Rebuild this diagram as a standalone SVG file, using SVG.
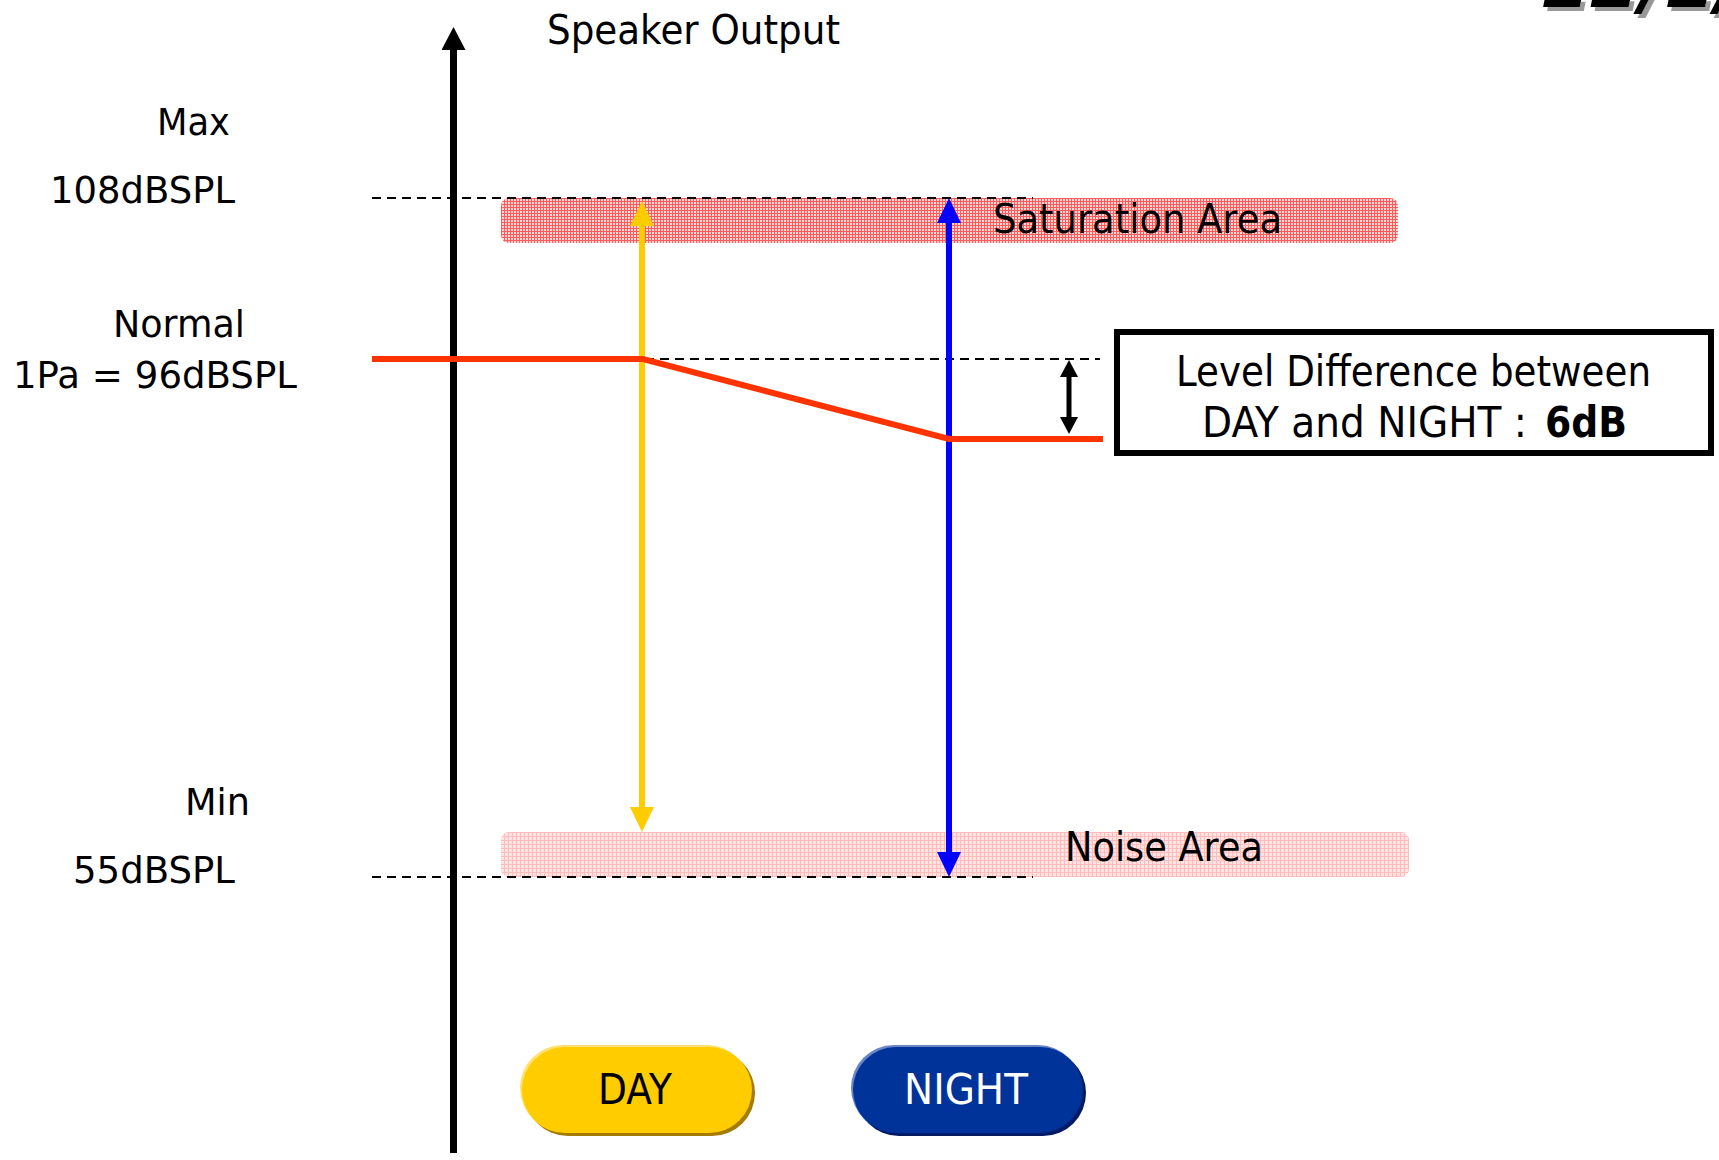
<svg xmlns="http://www.w3.org/2000/svg" width="1719" height="1160" viewBox="0 0 1719 1160">
<style>
text{font-family:"DejaVu Sans","Liberation Sans",sans-serif;fill:#000}
.lbl{font-size:38px}
.area{font-size:41px}
.box{font-size:42px}
.dash{stroke:#000;stroke-width:2;stroke-dasharray:9 6;fill:none}
</style>
<defs>
<pattern id="satHatch" width="3" height="3" patternUnits="userSpaceOnUse">
<rect width="3" height="3" fill="#ffd6d6"/>
<rect width="3" height="1" fill="#ff5a5a"/>
<rect width="1" height="3" fill="#ff5a5a"/>
</pattern>
<pattern id="noiseHatch" width="4" height="4" patternUnits="userSpaceOnUse">
<rect width="4" height="4" fill="#ffe2e2"/>
<rect width="4" height="1" fill="#ffbcbc"/>
<rect width="1" height="4" fill="#ffbcbc"/>
</pattern>
<filter id="shadow" x="-10%" y="-10%" width="130%" height="150%">
<feDropShadow dx="4" dy="4" stdDeviation="0.5" flood-color="#999" flood-opacity="1"/>
</filter>
<marker id="mYellow" viewBox="0 0 25 24" refX="15" refY="12" markerWidth="25" markerHeight="24" markerUnits="userSpaceOnUse" orient="auto-start-reverse"><path d="M0,0 L25,12 L0,24 z" fill="#ffcc00"/></marker>
<marker id="mBlue" viewBox="0 0 25 24" refX="15" refY="12" markerWidth="25" markerHeight="24" markerUnits="userSpaceOnUse" orient="auto-start-reverse"><path d="M0,0 L25,12 L0,24 z" fill="#0000ff"/></marker>
<marker id="mAxis" viewBox="0 0 23 24" refX="13" refY="12" markerWidth="23" markerHeight="24" markerUnits="userSpaceOnUse" orient="auto"><path d="M0,0 L23,12 L0,24 z" fill="#000"/></marker>
<marker id="mSmall" viewBox="0 0 17 18" refX="10" refY="9" markerWidth="17" markerHeight="18" markerUnits="userSpaceOnUse" orient="auto-start-reverse"><path d="M0,0 L17,9 L0,18 z" fill="#000"/></marker>
</defs>
<rect width="1719" height="1160" fill="#fff"/>

<g id="date">
<text x="1540" y="7" font-family="Liberation Sans, sans-serif" font-size="72" font-weight="bold" font-style="italic" filter="url(#shadow)">12/2/2</text>
</g>

<g id="saturation-area">
<rect x="501" y="198" width="897" height="45" rx="8" fill="url(#satHatch)"/>
<text class="area" x="993" y="233" textLength="289" lengthAdjust="spacingAndGlyphs">Saturation Area</text>
</g>
<g id="noise-area">
<rect x="501" y="832" width="908" height="45" rx="8" fill="url(#noiseHatch)"/>
<text class="area" x="1065" y="861" textLength="198" lengthAdjust="spacingAndGlyphs">Noise Area</text>
</g>

<g id="reference-lines">
<line class="dash" x1="372" y1="198" x2="1033" y2="198"/>
<line class="dash" x1="630" y1="359" x2="1100" y2="359"/>
<line class="dash" x1="372" y1="877" x2="1033" y2="877"/>
</g>

<g id="axis">
<line x1="453.5" y1="1153" x2="453.5" y2="37" stroke="#000" stroke-width="7" marker-end="url(#mAxis)"/>
<text x="547" y="44" font-size="40" textLength="293" lengthAdjust="spacingAndGlyphs">Speaker Output</text>
</g>

<g id="labels">
<text class="lbl" x="157" y="135" textLength="73" lengthAdjust="spacingAndGlyphs">Max</text>
<text class="lbl" x="50" y="203" textLength="185" lengthAdjust="spacingAndGlyphs">108dBSPL</text>
<text class="lbl" x="113" y="337" textLength="132" lengthAdjust="spacingAndGlyphs">Normal</text>
<text class="lbl" x="13" y="388" textLength="284" lengthAdjust="spacingAndGlyphs" xml:space="preserve">1Pa = 96dBSPL</text>
<text class="lbl" x="185" y="815" textLength="65" lengthAdjust="spacingAndGlyphs">Min</text>
<text class="lbl" x="73" y="883" textLength="162" lengthAdjust="spacingAndGlyphs">55dBSPL</text>
</g>

<g id="connectors">
<line id="day-range" x1="642" y1="211" x2="642" y2="822" stroke="#ffcc00" stroke-width="6" marker-start="url(#mYellow)" marker-end="url(#mYellow)"/>
<line id="night-range" x1="949" y1="208" x2="949" y2="867" stroke="#0000ff" stroke-width="6" marker-start="url(#mBlue)" marker-end="url(#mBlue)"/>
<polyline id="level-curve" points="372,359 643,359 949,439 1103,439" fill="none" stroke="#ff3300" stroke-width="6"/>
<line id="diff-arrow" x1="1069" y1="367" x2="1069" y2="427" stroke="#000" stroke-width="5" marker-start="url(#mSmall)" marker-end="url(#mSmall)"/>
</g>

<g id="level-box">
<rect x="1117" y="332" width="594" height="121" fill="#fff" stroke="#000" stroke-width="6"/>
<text class="box" x="1176" y="386" textLength="475" lengthAdjust="spacingAndGlyphs">Level Difference between</text>
<text class="box" x="1202" y="437" textLength="325" lengthAdjust="spacingAndGlyphs">DAY and NIGHT :</text>
<text class="box" x="1545" y="437" font-weight="bold" textLength="82" lengthAdjust="spacingAndGlyphs">6dB</text>
</g>

<g id="day-button">
<rect x="525" y="1050" width="230" height="86" rx="43" fill="#a67c00"/>
<rect x="520" y="1045" width="230" height="86" rx="43" fill="#ffe070"/>
<rect x="522" y="1047" width="230" height="86" rx="43" fill="#ffcc00"/>
<text x="598" y="1104" font-size="42" textLength="74" lengthAdjust="spacingAndGlyphs">DAY</text>
</g>
<g id="night-button">
<rect x="856" y="1050" width="230" height="86" rx="43" fill="#001a66"/>
<rect x="851" y="1045" width="230" height="86" rx="43" fill="#6a86c6"/>
<rect x="853" y="1047" width="230" height="86" rx="43" fill="#003399"/>
<text x="904" y="1104" font-size="42" style="fill:#fff" textLength="124" lengthAdjust="spacingAndGlyphs">NIGHT</text>
</g>
</svg>
